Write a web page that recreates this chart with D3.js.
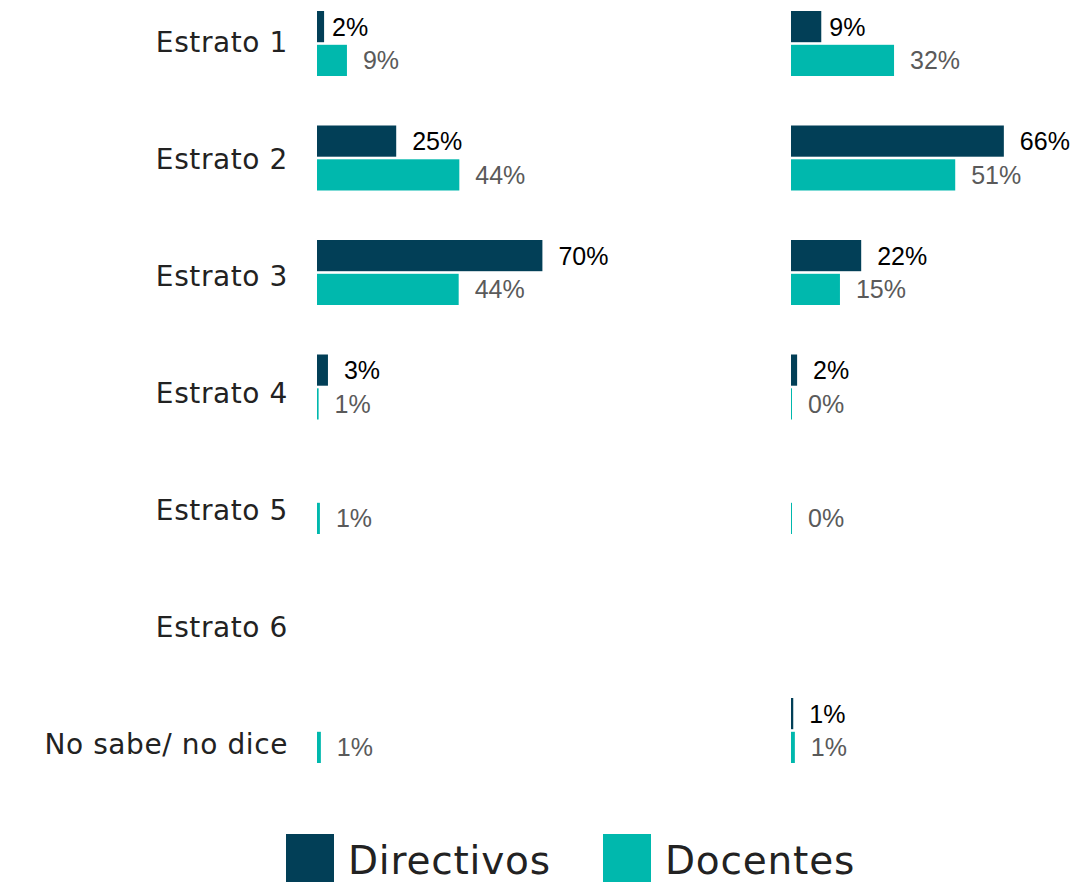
<!DOCTYPE html>
<html>
<head>
<meta charset="utf-8">
<script src="https://cdn.jsdelivr.net/npm/d3@7"></script>
<style>
  body { margin: 0; background: #fff; }
  svg { display: block; }
</style>
</head>
<body>
<div id="chart"></div>
<script>
// data (percent); labels are the rounded values
var categories = ["Estrato 1", "Estrato 2", "Estrato 3", "Estrato 4", "Estrato 5", "Estrato 6", "No sabe/ no dice"];
var seriesNames = ["Directivos", "Docentes"];
// left panel
var leftDirectivos = [2.2, 24.6, 70, 3.4, null, null, null];
var leftDocentes   = [9.3, 44.2, 44, 0.5, 0.9, null, 1.2];
// right panel
var rightDirectivos = [9.4, 66.1, 21.8, 1.9, null, null, 0.7];
var rightDocentes   = [32, 51, 15.2, 0.3, 0.3, null, 1.2];

var panels = [
  { x0: 317, series: [leftDirectivos, leftDocentes] },
  { x0: 791, series: [rightDirectivos, rightDocentes] }
];

var W = 1076, H = 882;
var colors = ["#023f57", "#00b8ad"];
var labelColors = ["#000000", "#5a5a5a"];
var catFont = "'DejaVu Sans', sans-serif";

var svg = d3.select("#chart").append("svg").attr("width", W).attr("height", H);

// row bands for the bars
var y = d3.scaleBand().domain(categories).range([11, 11 + 114.5 * 7]).paddingInner(0).paddingOuter(0);
var ySub = d3.scaleBand().domain(seriesNames).range([0, 65]).paddingInner(5 / 65);
// category labels sit on their own, slightly wider spacing
var yLab = d3.scalePoint().domain(categories).range([42, 744]);

var x = d3.scaleLinear().domain([0, 100]).range([0, 322]);

svg.append("g").selectAll("text").data(categories).enter().append("text")
  .attr("x", 288)
  .attr("y", function(d) { return yLab(d); })
  .attr("dy", "0.36em")
  .attr("text-anchor", "end")
  .style("font-family", catFont)
  .style("font-size", "28px")
  .style("letter-spacing", "0.6px")
  .attr("fill", "#222")
  .text(function(d) { return d; });

panels.forEach(function(p, pi) {
  var g = svg.append("g").attr("transform", "translate(" + p.x0 + ",0)");
  p.series.forEach(function(vals, si) {
    var rows = [];
    vals.forEach(function(v, i) { if (v !== null) rows.push({ cat: categories[i], v: v, i: i }); });
    g.selectAll("rect.s" + si).data(rows).enter().append("rect")
      .attr("class", "s" + si)
      .attr("x", 0)
      .attr("y", function(d) { return y(d.cat) + ySub(seriesNames[si]); })
      .attr("width", function(d) { return Math.max(1, x(d.v)); })
      .attr("height", ySub.bandwidth())
      .attr("fill", colors[si]);
    g.selectAll("text.s" + si).data(rows).enter().append("text")
      .attr("class", "s" + si)
      .attr("x", function(d) {
        // first Directivos label was pulled in closer to its bar
        var gap = (si === 0 && d.i === 0) ? 8 : 16;
        return Math.max(1, x(d.v)) + gap;
      })
      .attr("y", function(d) { return y(d.cat) + ySub(seriesNames[si]) + ySub.bandwidth() / 2; })
      .attr("dy", "0.36em")
      .style("font-family", "'Liberation Sans', Arial, sans-serif")
      .style("font-size", "25px")
      .attr("fill", labelColors[si])
      .text(function(d) { return Math.round(d.v) + "%"; });
  });
});

// legend
var legX = d3.scalePoint().domain(seriesNames).range([286, 603]);
var leg = svg.append("g").selectAll("g").data(seriesNames).enter().append("g")
  .attr("transform", function(d) { return "translate(" + legX(d) + ",834)"; });
leg.append("rect").attr("width", 48).attr("height", 48)
  .attr("fill", function(d, i) { return colors[i]; });
leg.append("text").attr("x", 62).attr("y", 26).attr("dy", "0.36em")
  .style("font-family", catFont)
  .style("font-size", "39px")
  .style("letter-spacing", "0.8px")
  .attr("fill", "#222")
  .text(function(d) { return d; });
</script>
</body>
</html>
